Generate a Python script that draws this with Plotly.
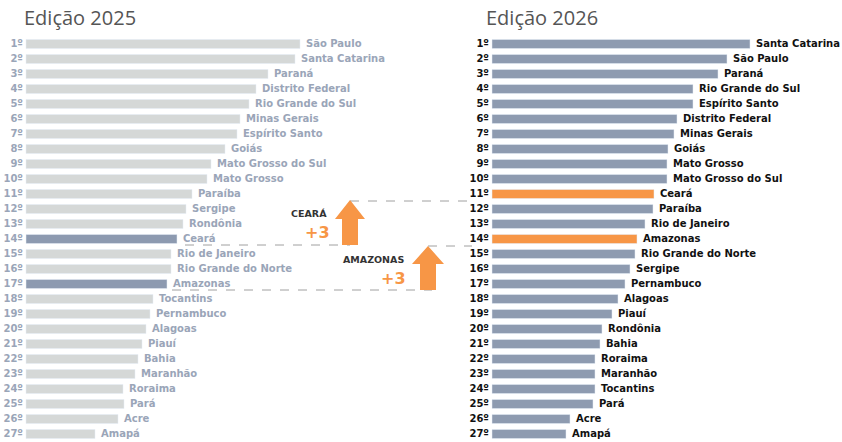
import plotly.graph_objects as go

ranks = [f"{i}º" for i in range(1, 28)]
states_2025 = ["São Paulo","Santa Catarina","Paraná","Distrito Federal","Rio Grande do Sul","Minas Gerais",
    "Espírito Santo","Goiás","Mato Grosso do Sul","Mato Grosso","Paraíba","Sergipe","Rondônia","Ceará",
    "Rio de Janeiro","Rio Grande do Norte","Amazonas","Tocantins","Pernambuco","Alagoas","Piauí","Bahia",
    "Maranhão","Roraima","Pará","Acre","Amapá"]
values_2025 = [274,269,242,230,223,214,211,199,185,181,166,160,157,151,145,145,141,127,124,120,116,112,109,97,98,92,69]
states_2026 = ["Santa Catarina","São Paulo","Paraná","Rio Grande do Sul","Espírito Santo","Distrito Federal",
    "Minas Gerais","Goiás","Mato Grosso","Mato Grosso do Sul","Ceará","Paraíba","Rio de Janeiro","Amazonas",
    "Rio Grande do Norte","Sergipe","Pernambuco","Alagoas","Piauí","Rondônia","Bahia","Roraima","Maranhão",
    "Tocantins","Pará","Acre","Amapá"]
values_2026 = [258,235,226,201,201,185,182,176,175,175,162,161,153,145,143,138,133,126,120,110,108,103,103,103,101,78,74]
highlight = ["Ceará", "Amazonas"]

y = list(range(1, 28))
W, H = 842, 442
font = "DejaVu Sans"

fig = go.Figure()
c1 = ["#8d9ab0" if s in highlight else "#d5d8d7" for s in states_2025]
c2 = ["#f79646" if s in highlight else "#8e9bb0" for s in states_2026]
fig.add_trace(go.Bar(x=values_2025, y=y, orientation="h", marker_color=c1, width=0.6, xaxis="x", yaxis="y"))
fig.add_trace(go.Bar(x=values_2026, y=y, orientation="h", marker_color=c2, width=0.6, xaxis="x2", yaxis="y"))
tf = dict(family=font, size=10, color="#9aa5b8")
tf2 = dict(family=font, size=10, color="#111")
for xs, txts, pos, f, ax in [
    ([v + 6 for v in values_2025], states_2025, "middle right", tf, "x"),
    ([-3]*27, ranks, "middle left", tf, "x"),
    ([v + 6 for v in values_2026], states_2026, "middle right", tf2, "x2"),
    ([-3]*27, ranks, "middle left", tf2, "x2"),
]:
    fig.add_trace(go.Scatter(x=xs, y=y, mode="text", text=[f"<b>{s}</b>" for s in txts], textposition=pos,
                             textfont=f, xaxis=ax, yaxis="y", cliponaxis=False))

def px(x): return x / W
def py(yy): return 1 - yy / H

shapes = []
def dash(x0, x1, yy):
    shapes.append(dict(type="line", xref="paper", yref="paper", x0=px(x0), x1=px(x1), y0=py(yy), y1=py(yy),
                       line=dict(color="#a0a0a0", width=1, dash="dash")))
dash(350, 472, 201); dash(185, 350, 245); dash(428, 472, 246); dash(172, 432, 290)

def arrow(cx, tip, headw, headh, shaftw, bottom):
    pts = [(cx, tip), (cx + headw/2, tip + headh), (cx + shaftw/2, tip + headh), (cx + shaftw/2, bottom),
           (cx - shaftw/2, bottom), (cx - shaftw/2, tip + headh), (cx - headw/2, tip + headh)]
    path = "M " + " L ".join(f"{px(a):.5f},{py(b):.5f}" for a, b in pts) + " Z"
    shapes.append(dict(type="path", xref="paper", yref="paper", path=path, fillcolor="#f79646", line=dict(width=0)))
arrow(350, 200, 30, 19, 16, 245)
arrow(428, 246, 32, 18, 16, 290)

ann = []
def txt(x, yy, t, size, color, anchor="right"):
    ann.append(dict(xref="paper", yref="paper", x=px(x), y=py(yy), text=t, showarrow=False, xanchor=anchor,
                    yanchor="middle", font=dict(family=font, size=size, color=color)))
txt(329, 213, "<b>CEARÁ</b>", 9.5, "#333")
txt(332, 232, "<b>+3</b>", 16, "#f79646")
txt(406, 259, "<b>AMAZONAS</b>", 9.5, "#333")
txt(408, 278, "<b>+3</b>", 16, "#f79646")
ann.append(dict(xref="paper", yref="paper", x=px(22), y=py(18), text="Edição 2025", showarrow=False, xanchor="left",
                yanchor="middle", font=dict(family="Open Sans", size=20, color="#555")))
ann.append(dict(xref="paper", yref="paper", x=px(484), y=py(18), text="Edição 2026", showarrow=False, xanchor="left",
                yanchor="middle", font=dict(family="Open Sans", size=20, color="#555")))

hidden = dict(visible=False, fixedrange=True)
fig.update_layout(
    width=W, height=H, margin=dict(l=0, r=0, t=0, b=0), showlegend=False,
    paper_bgcolor="white", plot_bgcolor="white", shapes=shapes, annotations=ann,
    xaxis=dict(domain=[0, 0.5], range=[-26, 395], **hidden),
    xaxis2=dict(domain=[0.5, 1], range=[-71, 350], **hidden),
    yaxis=dict(range=[27.533, -1.933], **hidden),
)
fig.write_html("out.html", config={"displayModeBar": False},
               post_script="document.body.style.margin='0';document.body.style.overflow='hidden';")
